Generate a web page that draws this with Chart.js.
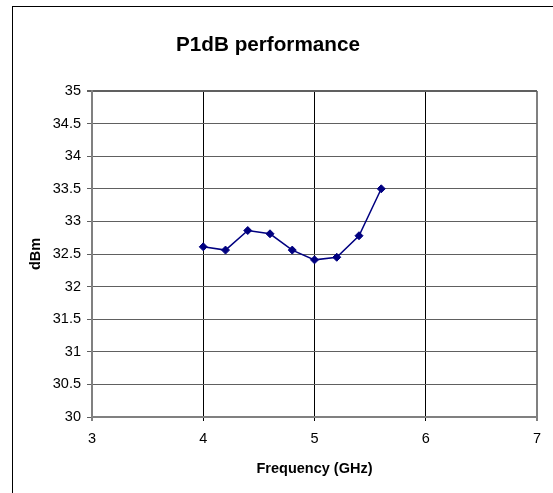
<!DOCTYPE html>
<html lang="en">
<head>
    <meta charset="UTF-8">
    <script src="https://cdn.jsdelivr.net/npm/chart.js"></script>
    <title>P1dB performance</title>
    <style>
        body { margin: 0; background: #fff; }
    </style>
</head>
<body>
    <canvas id="mychart" width="553" height="493"></canvas>

    <script>
        // data
        let freq = [4, 4.2, 4.4, 4.6, 4.8, 5, 5.2, 5.4, 5.6];
        let p1db = [32.61, 32.56, 32.86, 32.81, 32.56, 32.41, 32.45, 32.78, 33.5];
        let xTicks = [3, 4, 5, 6, 7];
        let yTicks = [30, 30.5, 31, 31.5, 32, 32.5, 33, 33.5, 34, 34.5, 35];

        let font = "'Liberation Sans', Arial, sans-serif";

        // white page, outer frame and the chart title
        let frame = {
            id: 'frame',
            beforeDraw(chart) {
                let c = chart.ctx;
                c.save();
                c.fillStyle = '#fff';
                c.fillRect(0, 0, chart.width, chart.height);
                c.strokeStyle = '#000';
                c.lineWidth = 1;
                c.strokeRect(12.5, 6.5, 700, 700);
                c.fillStyle = '#000';
                c.font = 'bold 20.7px ' + font;
                c.textAlign = 'center';
                c.textBaseline = 'middle';
                c.fillText('P1dB performance', 268, 45);
                c.restore();
            }
        };

        let ctx = document.getElementById("mychart").getContext('2d');
        let chart = new Chart(ctx, {
            type: 'line',
            data: {
                datasets: [{
                    label: 'P1dB',
                    data: freq.map((f, i) => ({x: f, y: p1db[i]})),
                    borderColor: '#000080',
                    backgroundColor: '#000080',
                    borderWidth: 1.5,
                    pointStyle: 'rectRot',
                    pointRadius: 4,
                    pointBorderWidth: 1,
                    tension: 0
                }]
            },
            options: {
                responsive: false,
                devicePixelRatio: 1,
                animation: false,
                layout: { padding: { top: 91, right: 16, left: 0, bottom: 0 } },
                plugins: {
                    legend: { display: false },
                    tooltip: { enabled: false }
                },
                scales: {
                    x: {
                        type: 'linear',
                        min: 3,
                        max: 7,
                        afterBuildTicks: s => { s.ticks = xTicks.map(v => ({value: v})); },
                        afterFit: s => { s.height = 76; },
                        ticks: { color: '#000', padding: 9, callback: v => String(v), font: { family: font, size: 14.5 } },
                        grid: {
                            tickLength: 4,
                            color: c => (c.tick && (c.tick.value === 3 || c.tick.value === 7)) ? '#808080' : '#000',
                            lineWidth: c => (c.tick && (c.tick.value === 3 || c.tick.value === 7)) ? 2 : 1
                        },
                        border: { color: '#808080', width: 2 },
                        title: {
                            display: true,
                            text: 'Frequency (GHz)',
                            color: '#000',
                            padding: { top: 0, bottom: 15.6 },
                            font: { family: font, size: 14.5, weight: 'bold' }
                        }
                    },
                    y: {
                        min: 30,
                        max: 35,
                        afterBuildTicks: s => { s.ticks = yTicks.map(v => ({value: v})); },
                        afterFit: s => { s.width = 92; },
                        ticks: { color: '#000', padding: 6, callback: v => String(v), font: { family: font, size: 14.5 } },
                        grid: {
                            tickLength: 5,
                            color: '#606060',
                            lineWidth: c => (c.tick && c.tick.value === 35) ? 2 : 1
                        },
                        border: { color: '#808080', width: 2 },
                        title: {
                            display: true,
                            text: 'dBm',
                            color: '#000',
                            padding: { top: 27.5, bottom: 0 },
                            font: { family: font, size: 14.5, weight: 'bold' }
                        }
                    }
                }
            },
            plugins: [frame]
        });
    </script>
</body>
</html>
